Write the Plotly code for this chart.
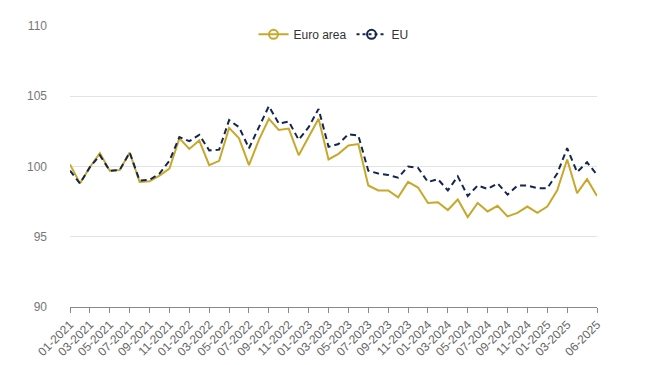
import plotly.graph_objects as go

months = [f"{m:02d}-{y}" for y in range(2021, 2026) for m in range(1, 13)][:54]

euro_area = [100.15, 98.8, 99.95, 100.95, 99.7, 99.75, 101.0, 98.9, 98.95, 99.35,
             99.85, 102.0, 101.25, 101.85, 100.1, 100.4, 102.75, 102.0, 100.1, 101.9,
             103.4, 102.6, 102.7, 100.8, 102.1, 103.4, 100.5, 100.9, 101.5, 101.6,
             98.65, 98.3, 98.3, 97.8, 98.9, 98.5, 97.4, 97.45, 96.9, 97.65,
             96.4, 97.4, 96.8, 97.2, 96.45, 96.7, 97.15, 96.7, 97.15, 98.3,
             100.5, 98.1, 99.1, 97.9]

eu = [99.7, 98.8, 99.95, 100.8, 99.7, 99.75, 101.0, 99.0, 99.05, 99.5,
      100.4, 102.1, 101.8, 102.25, 101.15, 101.2, 103.3, 102.8, 101.3, 102.8,
      104.3, 103.05, 103.2, 101.9, 102.8, 104.1, 101.4, 101.6, 102.3, 102.2,
      99.7, 99.5, 99.4, 99.2, 100.0, 99.9, 98.9, 99.1, 98.3, 99.3,
      97.9, 98.65, 98.4, 98.8, 98.0, 98.65, 98.65, 98.45, 98.45, 99.5,
      101.3, 99.6, 100.3, 99.4]

tick_labels = [months[i] for i in range(0, 51, 2)] + ["06-2025"]

GOLD = "#C8A82C"
NAVY = "#14264F"

fig = go.Figure()
fig.add_trace(go.Scatter(x=months, y=euro_area, mode="lines", name="Euro area",
                         line=dict(color=GOLD, width=2), showlegend=False))
fig.add_trace(go.Scatter(x=months, y=eu, mode="lines", name="EU",
                         line=dict(color=NAVY, width=2, dash="6px,4px"), showlegend=False))
# legend entries
fig.add_trace(go.Scatter(x=[None], y=[None], mode="lines+markers", name="Euro area",
                         line=dict(color=GOLD, width=2),
                         marker=dict(symbol="circle-open", size=9, color=GOLD, line=dict(width=2))))
fig.add_trace(go.Scatter(x=[None], y=[None], mode="lines+markers", name="EU",
                         line=dict(color=NAVY, width=2, dash="dot"),
                         marker=dict(symbol="circle-open", size=9, color=NAVY, line=dict(width=2))))

fig.update_layout(
    width=642, height=357,
    margin=dict(l=62, r=53, t=18, b=58),
    paper_bgcolor="white", plot_bgcolor="white",
    font=dict(family="Liberation Sans, Arial, sans-serif", size=12, color="#666666"),
    legend=dict(orientation="h", x=0.5, xanchor="center", y=1.022, yanchor="top",
                font=dict(size=12, color="#333333"), itemwidth=30,
                bgcolor="rgba(0,0,0,0)"),
    xaxis=dict(type="category", range=[0, 53], tickmode="array",
               tickvals=tick_labels, ticktext=tick_labels, tickangle=-45,
               showgrid=False, showline=True, linecolor="#888888", linewidth=1,
               ticks="outside", ticklen=5, tickcolor="#888888", automargin=False,
               tickfont=dict(size=12, color="#666666")),
    yaxis=dict(range=[90, 110], tickvals=[90, 95, 100, 105, 110],
               showgrid=True, gridcolor="#e3e3e3", gridwidth=1,
               zeroline=False, showline=False, ticks="", automargin=False,
               ticklabelstandoff=22,
               tickfont=dict(size=12, color="#777777")),
)

fig.write_html("out.html")
